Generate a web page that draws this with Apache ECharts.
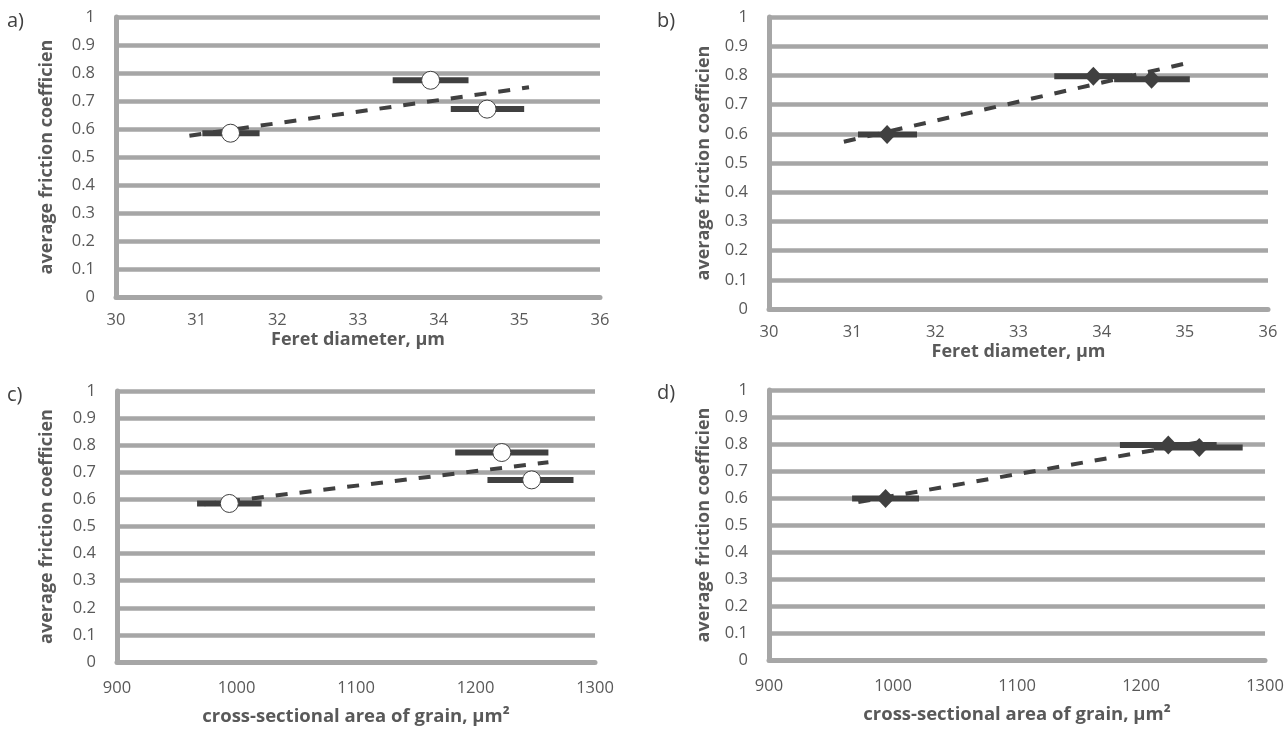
<!DOCTYPE html>
<html>
<head>
<meta charset="utf-8">
<script src="https://cdn.jsdelivr.net/npm/echarts@6/dist/echarts.min.js"></script>
<style>
	html, body { margin: 0; padding: 0; background: #fff; }
	#graph { width: 1287px; height: 730px; }
</style>
</head>
<body>
<div id="graph"></div>
<script>
// values
var feretX = [31.42, 33.90, 34.60];
var feretLow = [31.07, 33.43, 34.15];
var feretHigh = [31.78, 34.37, 35.06];
var areaX = [994, 1222, 1247];
var areaLow = [967, 1183, 1210];
var areaHigh = [1021, 1261, 1282];

var yA = [0.585, 0.774, 0.671];
var yB = [0.598, 0.797, 0.787];
var yC = [0.585, 0.773, 0.672];
var yD = [0.598, 0.796, 0.787];

var trendAX = [30.91, 35.12], trendAY = [0.576, 0.749];
var trendBX = [30.90, 35.07], trendBY = [0.573, 0.845];
var trendCX = [973, 1261], trendCY = [0.582, 0.737];
var trendDX = [972, 1256], trendDY = [0.585, 0.814];

var feretTicks = [30, 36, 1];
var areaTicks = [900, 1300, 100];
var panelLabels = ['a)', 'b)', 'c)', 'd)'];

var yTitle = 'average friction coefficien';
var feretTitle = 'Feret diameter, µm';
var areaTitle = 'cross-sectional area of grain, µm²';

var gray = '#a6a6a6';
var dark = '#404040';
var textColor = '#595959';
var font = '"Open Sans", "Liberation Sans", sans-serif';

function pairs(xs, ys) {
	var out = [];
	for (var i = 0; i < xs.length; i++) out.push([xs[i], ys[i]]);
	return out;
}

function barRows(lo, hi, ys) {
	var out = [];
	for (var i = 0; i < lo.length; i++) out.push([lo[i], hi[i], ys[i]]);
	return out;
}

function renderBar(params, api) {
	var s = api.coord([api.value(0), api.value(2)]);
	var e = api.coord([api.value(1), api.value(2)]);
	return {
		type: 'line',
		shape: { x1: s[0], y1: s[1], x2: e[0], y2: e[1] },
		style: { stroke: dark, lineWidth: 6 }
	};
}

function xAxisOf(idx, ticks, title, gap, labelGap, titleSize) {
	return {
		gridIndex: idx, type: 'value',
		min: ticks[0], max: ticks[1], interval: ticks[2],
		axisLine: { show: true, lineStyle: { color: gray, width: 5 } },
		axisTick: { show: false },
		splitLine: { show: false },
		axisLabel: {
			color: textColor, fontSize: 16.5, fontFamily: font, margin: labelGap,
			formatter: function (v) { return String(v); }
		},
		name: title, nameLocation: 'middle', nameGap: gap,
		nameTextStyle: { color: textColor, fontSize: titleSize, fontWeight: 'bold', fontFamily: font }
	};
}

function yAxisOf(idx, gap) {
	return {
		gridIndex: idx, type: 'value',
		min: 0, max: 1, interval: 0.1,
		axisLine: { show: true, lineStyle: { color: gray, width: 5 } },
		axisTick: { show: false },
		splitLine: { show: true, lineStyle: { color: gray, width: 4.5 } },
		axisLabel: {
			color: textColor, fontSize: 16.5, fontFamily: font, margin: 21,
			formatter: function (v) { return String(+v.toFixed(1)); }
		},
		name: yTitle, nameLocation: 'middle', nameGap: gap, nameRotate: 90,
		nameTextStyle: { color: textColor, fontSize: 18, fontWeight: 'bold', fontFamily: font }
	};
}

function seriesOf(idx, lo, hi, xs, ys, tx, ty, symbol) {
	var marker = symbol === 'circle'
		? { symbol: 'circle', symbolSize: 18, itemStyle: { color: '#fff', borderColor: dark, borderWidth: 1, opacity: 1 } }
		: { symbol: 'diamond', symbolSize: [18, 19], itemStyle: { color: dark, opacity: 1 } };
	return [
		{
			type: 'custom', xAxisIndex: idx, yAxisIndex: idx, z: 2,
			renderItem: renderBar, data: barRows(lo, hi, ys),
			encode: { x: [0, 1], y: 2 }, silent: true
		},
		{
			type: 'line', xAxisIndex: idx, yAxisIndex: idx, z: 3,
			data: pairs(tx, ty), showSymbol: false, silent: true,
			lineStyle: { color: dark, width: 4, type: [12, 12] }
		},
		Object.assign({
			type: 'scatter', xAxisIndex: idx, yAxisIndex: idx, z: 4,
			data: pairs(xs, ys), silent: true
		}, marker)
	];
}

var myChart = echarts.init(document.getElementById('graph'));

var panelPos = [[7, 11], [657, 11], [7, 385], [657, 383]];
var graphics = [];
for (var i = 0; i < panelLabels.length; i++) {
	graphics.push({
		type: 'text', left: panelPos[i][0], top: panelPos[i][1],
		style: { text: panelLabels[i], fill: dark, fontSize: 20, fontFamily: font }
	});
}

var option = {
	animation: false,
	backgroundColor: '#fff',
	grid: [
		{ left: 116, top: 17, width: 484, height: 280 },
		{ left: 769, top: 17, width: 499, height: 292 },
		{ left: 117, top: 391, width: 478, height: 271 },
		{ left: 769, top: 390, width: 496, height: 270 }
	],
	xAxis: [
		xAxisOf(0, feretTicks, feretTitle, 34, 15, 18),
		xAxisOf(1, feretTicks, feretTitle, 34, 15, 18),
		xAxisOf(2, areaTicks, areaTitle, 45, 18, 18.5),
		xAxisOf(3, areaTicks, areaTitle, 45, 18, 18.5)
	],
	yAxis: [yAxisOf(0, 60), yAxisOf(1, 56), yAxisOf(2, 61), yAxisOf(3, 56)],
	graphic: graphics,
	series: [].concat(
		seriesOf(0, feretLow, feretHigh, feretX, yA, trendAX, trendAY, 'circle'),
		seriesOf(1, feretLow, feretHigh, feretX, yB, trendBX, trendBY, 'diamond'),
		seriesOf(2, areaLow, areaHigh, areaX, yC, trendCX, trendCY, 'circle'),
		seriesOf(3, areaLow, areaHigh, areaX, yD, trendDX, trendDY, 'diamond')
	)
};

myChart.setOption(option);
</script>
</body>
</html>
